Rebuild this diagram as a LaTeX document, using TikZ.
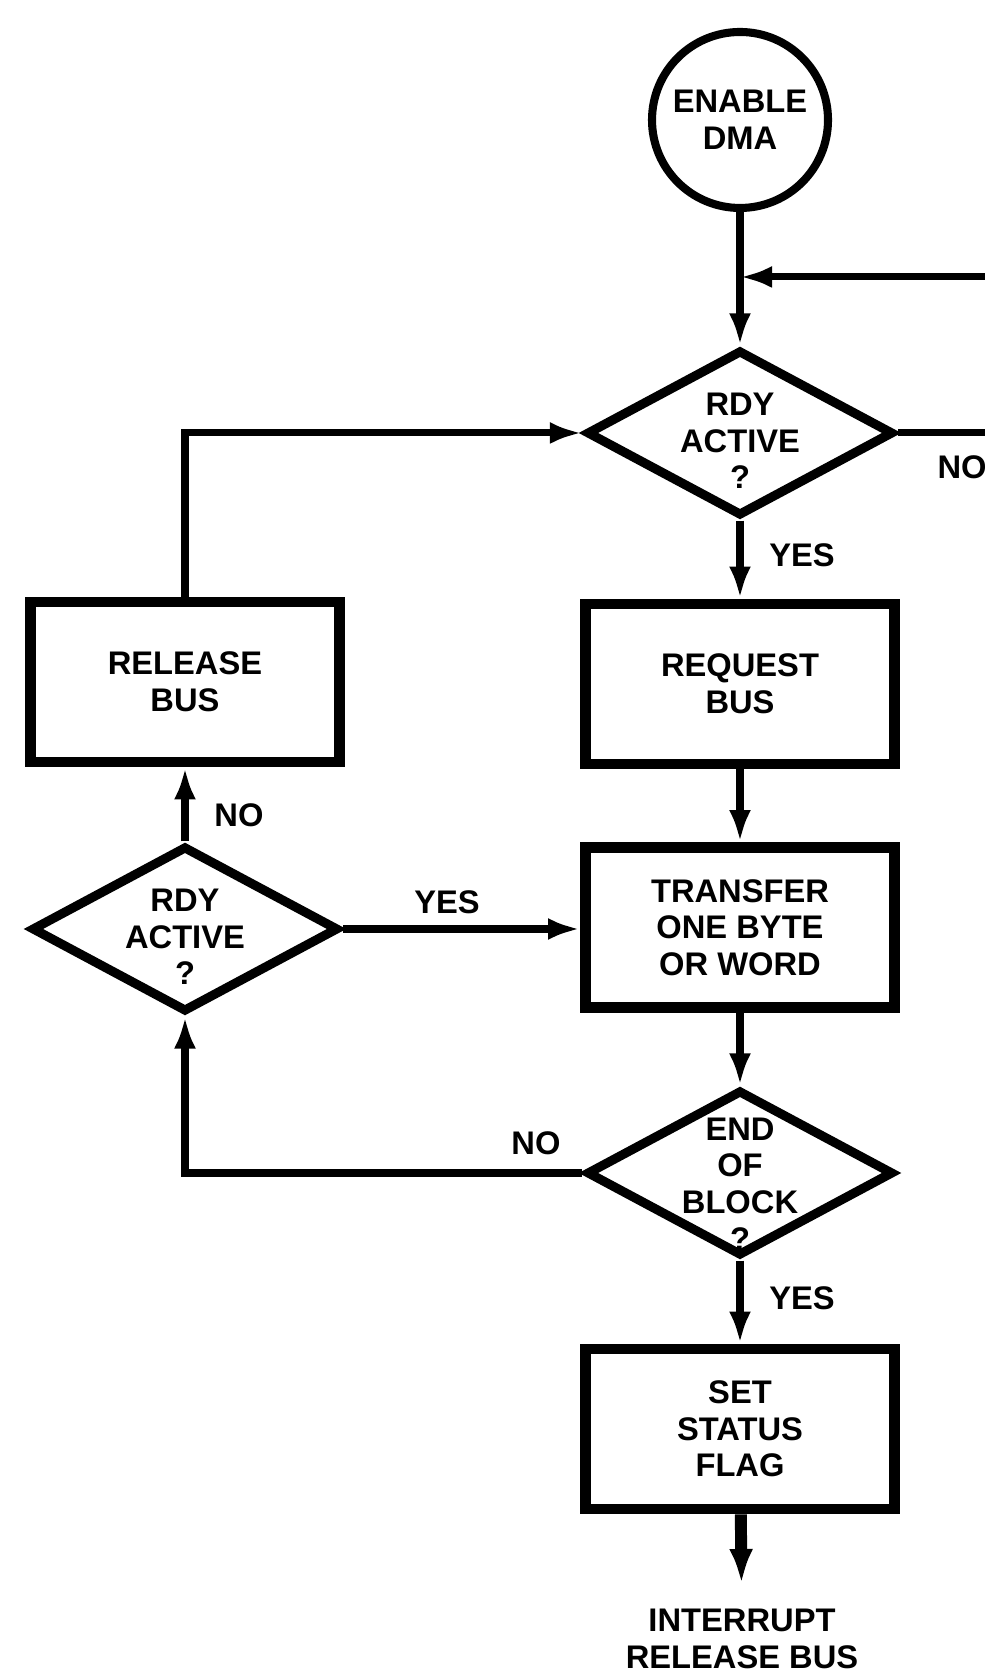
\documentclass[tikz,border=0pt]{standalone}
\usepackage{fontspec}
\setmainfont{Liberation Sans}
\usetikzlibrary{shapes.geometric,arrows.meta}

\begin{document}
\begin{tikzpicture}[line width=2pt,
  >={Latex[length=3.2mm,width=2.2mm]},
  every node/.style={font=\fontsize{9.3}{10.4}\selectfont\bfseries, align=center},
  start/.style={draw, circle, line width=2.3pt, minimum size=1.76cm, inner sep=0pt},
  box/.style={draw, rectangle, line width=3.1pt, minimum width=3.09cm, minimum height=1.6cm, inner sep=0pt},
  decision/.style={draw, diamond, line width=2.6pt, minimum width=3.07cm, minimum height=1.66cm, inner sep=0pt, aspect=1.85}]
  \useasboundingbox (0,0) rectangle (9.85,16.72);
  \node[start] (dma) at (7.40,15.52) {ENABLE\\DMA};
  \coordinate (join) at (7.40,13.95);
  \coordinate (loopin) at (9.85,13.95);
  \coordinate (loopout) at (9.85,12.39);
  \node[decision] (rdy1) at (7.40,12.39) {};
  \node (rdy1t) at ([yshift=-0.08cm]rdy1) {RDY\\ACTIVE\\?};
  \node[box] (req) at (7.40,9.88) {REQUEST\\BUS};
  \node[box] (xfer) at (7.40,7.445) {TRANSFER\\ONE BYTE\\OR WORD};
  \node[box] (rel) at (1.85,9.90) {RELEASE\\BUS};
  \node[decision] (rdy2) at (1.85,7.43) {};
  \node (rdy2t) at ([yshift=-0.08cm]rdy2) {RDY\\ACTIVE\\?};
  \node[decision] (endblk) at (7.40,4.99) {};
  \node (endblkt) at ([yshift=-0.11cm]endblk) {END\\OF\\BLOCK\\?};
  \node[box] (flag) at (7.40,2.43) {SET\\STATUS\\FLAG};
  \node[anchor=north, inner sep=0pt] (intr) at (7.42,0.66) {INTERRUPT\\RELEASE BUS};
  \node[anchor=west, inner xsep=0pt] (no1) at (9.34,12.05) {NO};
  \node (yes1) at (8.02,11.17) {YES};
  \node (no2) at (2.39,8.57) {NO};
  \node (yes2) at (4.47,7.70) {YES};
  \node (no3) at (5.36,5.29) {NO};
  \node (yes3) at (8.02,3.74) {YES};
  \draw (dma) -- (join);
  \draw[->] (join) -- (rdy1);
  \draw[->] (loopin) -- (join);
  \draw (rdy1) -- (loopout);
  \draw[->] (rdy1) -- (req);
  \draw[->] (req) -- (xfer);
  \draw[->] (xfer) -- (endblk);
  \draw[->] (endblk.west) -| (rdy2.south);
  \draw[->] (rdy2) -- (rel);
  \draw[->] (rdy2.east) -- (rdy2.east -| xfer.west);
  \draw[->] (rel.north) |- (rdy1.west);
  \draw[->] (endblk) -- (flag);
  \draw[line width=3.4pt, shorten >=0.22cm, -{Latex[length=3.5mm,width=2.4mm]}] (flag) -- (intr);
\end{tikzpicture}
\end{document}
